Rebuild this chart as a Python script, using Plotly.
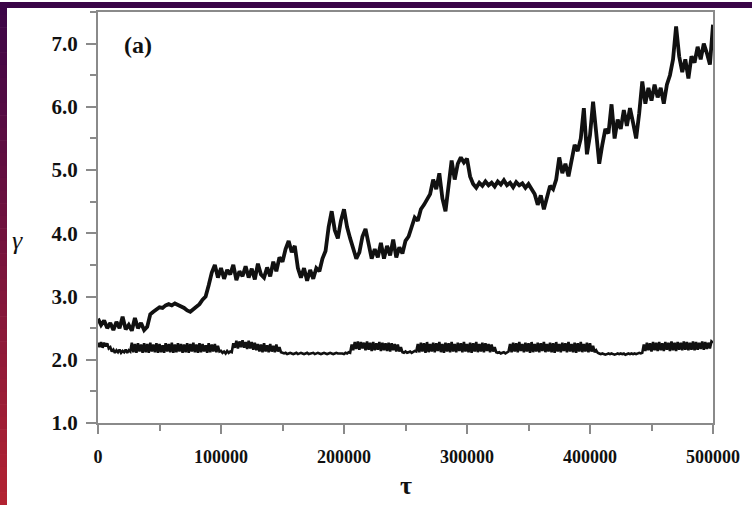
import plotly.graph_objects as go

# sampling grids of the simulation time tau
tau_coarse = list(range(0, 500001, 2500))
tau_fine = list(range(0, 500001, 1250))

# exponent gamma for the growing run (sampled every 2500 steps)
gamma_upper = [
    2.65, 2.55, 2.62, 2.50, 2.58, 2.47, 2.60, 2.50, 2.68, 2.48,
    2.55, 2.46, 2.66, 2.50, 2.58, 2.47, 2.52, 2.72, 2.76, 2.80,
    2.83, 2.82, 2.86, 2.88, 2.86, 2.89, 2.87, 2.85, 2.82, 2.78,
    2.76, 2.80, 2.84, 2.88, 2.95, 3.00, 3.18, 3.38, 3.50, 3.30,
    3.45, 3.28, 3.42, 3.35, 3.50, 3.26, 3.40, 3.32, 3.48, 3.30,
    3.44, 3.27, 3.52, 3.35, 3.30, 3.46, 3.32, 3.55, 3.40, 3.62,
    3.55, 3.75, 3.88, 3.70, 3.80, 3.45, 3.30, 3.45, 3.25, 3.42,
    3.28, 3.45, 3.40, 3.60, 3.72, 4.10, 4.35, 4.05, 3.92, 4.20,
    4.38, 4.10, 3.92, 3.75, 3.60, 3.70, 3.95, 4.07, 3.85, 3.60,
    3.75, 3.62, 3.85, 3.60, 3.80, 3.65, 3.90, 3.62, 3.78, 3.68,
    3.88, 3.95, 4.10, 4.25, 4.20, 4.38, 4.45, 4.55, 4.62, 4.85,
    4.70, 4.95, 4.55, 4.35, 4.70, 5.15, 4.85, 5.10, 5.20, 5.12,
    5.18, 4.90, 4.78, 4.72, 4.80, 4.75, 4.82, 4.76, 4.80, 4.74,
    4.82, 4.77, 4.84, 4.76, 4.80, 4.73, 4.81, 4.76, 4.79, 4.72,
    4.78, 4.70, 4.62, 4.45, 4.60, 4.38, 4.55, 4.75, 4.70, 4.85,
    5.20, 4.95, 5.10, 4.90, 5.15, 5.40, 5.30, 5.50, 5.98, 5.25,
    5.55, 6.08, 5.60, 5.10, 5.40, 5.65, 5.58, 6.04, 5.50, 5.80,
    5.65, 5.95, 5.70, 5.98, 5.75, 5.50, 5.90, 6.40, 6.05, 6.30,
    6.10, 6.35, 6.15, 6.30, 6.05, 6.35, 6.50, 6.75, 7.27, 6.80,
    6.55, 6.75, 6.45, 6.80, 6.70, 6.95, 6.75, 7.00, 6.85, 6.67,
    7.30,
]

# exponent gamma for the stationary run (sampled every 1250 steps)
gamma_lower = [
    # 0 - 10000
    2.27, 2.20, 2.28, 2.19, 2.27, 2.21, 2.26, 2.18, 2.20,
    # 11250 - 26250
    2.13, 2.16, 2.11, 2.15, 2.12, 2.16, 2.11, 2.14, 2.12, 2.16,
    2.11, 2.15, 2.13,
    # 27500 - 98750
    2.27, 2.12, 2.25, 2.11, 2.26, 2.13, 2.24, 2.11, 2.26, 2.12,
    2.25, 2.11, 2.27, 2.13, 2.24, 2.12, 2.26, 2.11, 2.25, 2.12,
    2.23, 2.11, 2.26, 2.13, 2.25, 2.12, 2.27, 2.11, 2.24, 2.12,
    2.26, 2.13, 2.25, 2.11, 2.24, 2.12, 2.26, 2.11, 2.25, 2.13,
    2.27, 2.12, 2.24, 2.11, 2.26, 2.12, 2.25, 2.13, 2.23, 2.11,
    2.26, 2.12, 2.24, 2.13, 2.25, 2.12, 2.22, 2.13,
    # 100000 - 108750
    2.14, 2.11, 2.13, 2.10, 2.14, 2.11, 2.13, 2.12,
    # 110000 - 128750
    2.26, 2.19, 2.30, 2.18, 2.29, 2.20, 2.31, 2.19, 2.28, 2.17,
    2.30, 2.18, 2.28, 2.16, 2.27, 2.15,
    # 130000 - 148750
    2.25, 2.13, 2.24, 2.12, 2.26, 2.13, 2.23, 2.12, 2.25, 2.13,
    2.22, 2.12, 2.24, 2.13, 2.20, 2.12,
    # 150000 - 205000
    2.11, 2.10, 2.11, 2.09, 2.10, 2.11, 2.10, 2.09, 2.10, 2.11,
    2.09, 2.10, 2.11, 2.10, 2.09, 2.10, 2.11, 2.09, 2.10, 2.10,
    2.11, 2.09, 2.10, 2.11, 2.10, 2.09, 2.10, 2.11, 2.10, 2.09,
    2.10, 2.11, 2.10, 2.09, 2.10, 2.11, 2.10, 2.10, 2.11, 2.10,
    2.09, 2.11, 2.10, 2.12, 2.11,
    # 206250 - 246250
    2.24, 2.15, 2.28, 2.17, 2.29, 2.16, 2.28, 2.18, 2.27, 2.15,
    2.29, 2.16, 2.27, 2.14, 2.28, 2.15, 2.26, 2.16, 2.28, 2.14,
    2.27, 2.15, 2.26, 2.14, 2.27, 2.13, 2.26, 2.15, 2.25, 2.13,
    2.24, 2.13, 2.20,
    # 247500 - 258750
    2.12, 2.11, 2.13, 2.11, 2.12, 2.13, 2.11, 2.12, 2.14, 2.13,
    # 260000 - 323750
    2.25, 2.12, 2.27, 2.13, 2.26, 2.11, 2.28, 2.12, 2.25, 2.13,
    2.27, 2.12, 2.26, 2.14, 2.28, 2.12, 2.25, 2.11, 2.27, 2.13,
    2.26, 2.12, 2.28, 2.13, 2.25, 2.12, 2.27, 2.14, 2.26, 2.12,
    2.28, 2.13, 2.25, 2.12, 2.27, 2.11, 2.26, 2.13, 2.28, 2.12,
    2.25, 2.13, 2.27, 2.12, 2.26, 2.14, 2.25, 2.12, 2.24, 2.13,
    2.20, 2.12,
    # 325000 - 333750
    2.11, 2.12, 2.10, 2.11, 2.12, 2.10, 2.11, 2.13,
    # 335000 - 405000
    2.25, 2.12, 2.27, 2.13, 2.26, 2.12, 2.28, 2.14, 2.25, 2.12,
    2.27, 2.13, 2.26, 2.11, 2.28, 2.12, 2.25, 2.13, 2.27, 2.12,
    2.26, 2.14, 2.28, 2.12, 2.25, 2.13, 2.27, 2.12, 2.26, 2.11,
    2.28, 2.13, 2.25, 2.12, 2.27, 2.14, 2.26, 2.12, 2.28, 2.13,
    2.25, 2.12, 2.27, 2.11, 2.26, 2.13, 2.28, 2.12, 2.25, 2.13,
    2.27, 2.12, 2.26, 2.13, 2.22, 2.12, 2.15,
    # 406250 - 442500
    2.11, 2.10, 2.09, 2.10, 2.09, 2.08, 2.09, 2.10, 2.09, 2.10,
    2.09, 2.08, 2.09, 2.10, 2.09, 2.10, 2.09, 2.10, 2.08, 2.09,
    2.10, 2.09, 2.10, 2.09, 2.10, 2.09, 2.10, 2.11, 2.10, 2.11,
    # 443750 - 500000
    2.24, 2.14, 2.27, 2.15, 2.26, 2.13, 2.28, 2.15, 2.27, 2.14,
    2.28, 2.15, 2.26, 2.14, 2.28, 2.16, 2.27, 2.14, 2.29, 2.15,
    2.27, 2.14, 2.28, 2.16, 2.27, 2.15, 2.29, 2.16, 2.28, 2.15,
    2.27, 2.16, 2.29, 2.15, 2.28, 2.16, 2.27, 2.17, 2.29, 2.16,
    2.28, 2.17, 2.27, 2.18, 2.29, 2.27,
]

assert len(gamma_upper) == len(tau_coarse)
assert len(gamma_lower) == len(tau_fine)

x_ticks = [0, 100000, 200000, 300000, 400000, 500000]
y_ticks = [1.0, 2.0, 3.0, 4.0, 5.0, 6.0, 7.0]

W, H = 752, 505
L, R, T, B = 98, 39, 10, 82
PW, PH = W - L - R, H - T - B

SERIF = "Liberation Serif, Times New Roman, serif"
AXIS_GREY = "#8a8a8a"
INK = "#111111"

fig = go.Figure()
fig.add_trace(go.Scatter(
    x=tau_coarse, y=gamma_upper, mode="lines",
    line=dict(color=INK, width=3.8),
    showlegend=False, hoverinfo="skip",
))
fig.add_trace(go.Scatter(
    x=tau_fine, y=gamma_lower, mode="lines",
    line=dict(color=INK, width=2.6),
    showlegend=False, hoverinfo="skip",
))


def px_x(p):
    return (p - L) / PW


def px_y(p):
    return 1 - (p - T) / PH


shapes = []
# dark frame strip along the top
shapes.append(dict(type="rect", xref="paper", yref="paper",
                   x0=px_x(0), x1=px_x(W), y0=px_y(6), y1=px_y(0),
                   fillcolor="#3a0547", line=dict(width=0), layer="above"))
# vertical strip on the left fading from purple to red
n_seg = 40
c_top = (58, 5, 71)
c_bot = (180, 35, 50)
for k in range(n_seg):
    f = (k + 0.5) / n_seg
    c = tuple(int(round(a + (b - a) * f)) for a, b in zip(c_top, c_bot))
    y0p = k * H / n_seg
    y1p = (k + 1) * H / n_seg + 0.6
    shapes.append(dict(type="rect", xref="paper", yref="paper",
                       x0=px_x(0), x1=px_x(7), y0=px_y(y1p), y1=px_y(y0p),
                       fillcolor="rgb(%d,%d,%d)" % c, line=dict(width=0),
                       layer="above"))

annotations = [
    dict(text="<b>(a)</b>", xref="paper", yref="paper", x=px_x(138), y=px_y(43),
         xanchor="center", yanchor="middle", showarrow=False,
         font=dict(family=SERIF, size=24, color=INK)),
    dict(text="<i>γ</i>", xref="paper", yref="paper", x=px_x(18), y=px_y(240),
         xanchor="center", yanchor="middle", showarrow=False,
         font=dict(family=SERIF, size=26, color=INK)),
    dict(text="<b>τ</b>", xref="paper", yref="paper", x=px_x(406), y=px_y(486),
         xanchor="center", yanchor="middle", showarrow=False,
         font=dict(family=SERIF, size=26, color=INK)),
]

fig.update_layout(
    width=W, height=H,
    margin=dict(l=L, r=R, t=T, b=B, pad=0),
    paper_bgcolor="white", plot_bgcolor="white",
    shapes=shapes, annotations=annotations,
    xaxis=dict(
        range=[0, 500000], tickvals=x_ticks, tickformat="d",
        ticks="outside", ticklen=9, tickwidth=2, tickcolor=AXIS_GREY,
        minor=dict(dtick=50000, ticks="outside", ticklen=6, tickwidth=2,
                   tickcolor=AXIS_GREY),
        showline=True, linecolor=AXIS_GREY, linewidth=2, mirror=True,
        showgrid=False, zeroline=False,
        tickfont=dict(family=SERIF, size=18, color=INK, weight="bold"),
        ticklabelstandoff=7,
    ),
    yaxis=dict(
        range=[1.0, 7.5], tickvals=y_ticks, tickformat=".1f",
        ticks="outside", ticklen=10, tickwidth=2, tickcolor=AXIS_GREY,
        minor=dict(dtick=0.5, ticks="outside", ticklen=6, tickwidth=2,
                   tickcolor=AXIS_GREY),
        showline=True, linecolor=AXIS_GREY, linewidth=2, mirror=True,
        showgrid=False, zeroline=False,
        tickfont=dict(family=SERIF, size=21, color=INK, weight="bold"),
        ticklabelstandoff=4,
    ),
)

fig.write_html("out.html")
